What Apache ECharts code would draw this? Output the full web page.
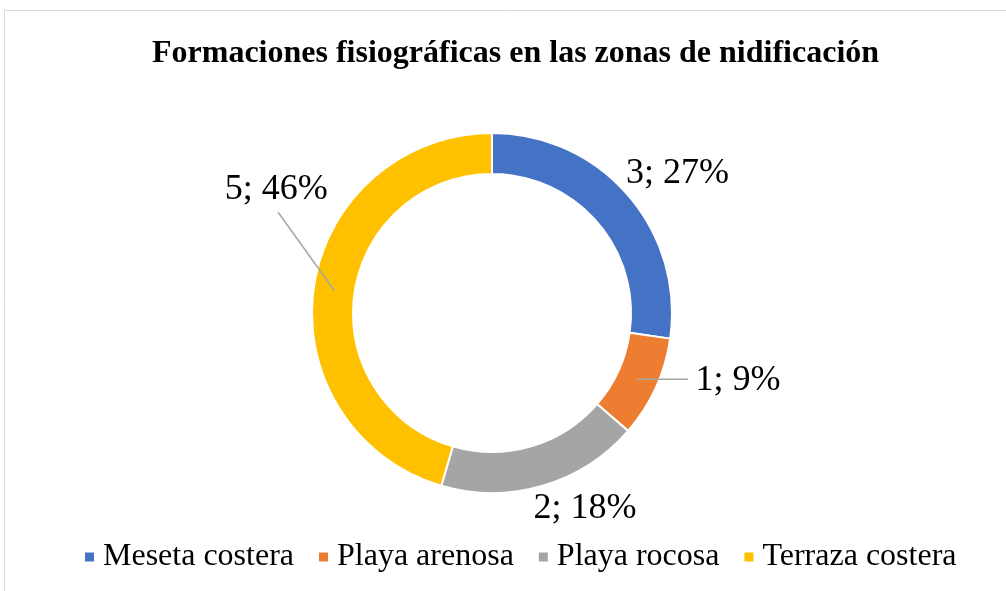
<!doctype html>
<html lang="es">
<head>
<meta charset="utf-8">
<title>Formaciones fisiográficas</title>
<script src="https://cdn.jsdelivr.net/npm/echarts@6/dist/echarts.min.js"></script>
<style>
  html, body { margin: 0; padding: 0; background: #fff; }
  #chart { width: 1006px; height: 591px; }
</style>
</head>
<body>
<div id="chart"></div>
<script>
var categories = ['Meseta costera', 'Playa arenosa', 'Playa rocosa', 'Terraza costera'];
var values = [3, 1, 2, 5];
var colors = ['#4472C4', '#ED7D31', '#A5A5A5', '#FFC000'];
var titleText = 'Formaciones fisiográficas en las zonas de nidificación';

// donut geometry (px)
var cx = 492, cy = 313, r0 = 139, r1 = 180;
// label offsets from the middle of each ring slice, and leader line ends
var labelShift = [[65, -35], [101, 1], [48, 43], [-58, -101]];
var lineEnd = [null, [51, 0], null, [-56, -78]];

var myChart = echarts.init(document.getElementById('chart'));

function midPoint(i) {
    var total = 0, before = 0;
    for (var k = 0; k < values.length; k++) {
        total += values[k];
        if (k < i) before += values[k];
    }
    var a = (before + values[i] / 2) / total * 2 * Math.PI;
    var rm = (r0 + r1) / 2;
    return [cx + rm * Math.sin(a), cy - rm * Math.cos(a)];
}

var ringData = categories.map(function (name, i) {
    return { name: name, value: values[i], itemStyle: { color: colors[i] } };
});

// same slices again, invisible, on top: only carries the labels and leader lines
var labelData = categories.map(function (name, i) {
    return {
        name: name,
        value: values[i],
        labelLine: { show: lineEnd[i] != null }
    };
});

myChart.setOption({
    animation: false,
    graphic: [{
        type: 'rect',
        shape: { x: 4.5, y: 10.5, width: 1100, height: 700 },
        style: { fill: 'none', stroke: '#d9d9d9', lineWidth: 1 },
        silent: true
    }],
    title: {
        text: titleText,
        left: 147,
        top: 33,
        textStyle: {
            fontFamily: 'Liberation Serif',
            fontWeight: 'bold',
            fontSize: 32,
            color: '#000'
        }
    },
    legend: {
        data: categories,
        left: 78,
        top: 536,
        icon: 'rect',
        itemWidth: 11,
        itemHeight: 11,
        itemGap: 23,
        textStyle: {
            fontFamily: 'Liberation Serif',
            fontSize: 32,
            color: '#000',
            padding: [0, 0, 0, 3]
        }
    },
    series: [{
        type: 'pie',
        z: 2,
        center: [cx, cy],
        radius: [r0, r1],
        startAngle: 90,
        clockwise: true,
        itemStyle: { borderColor: '#fff', borderWidth: 2 },
        label: { show: false },
        labelLine: { show: false },
        data: ringData
    }, {
        type: 'pie',
        z: 3,
        silent: true,
        center: [cx, cy],
        radius: [r0, r1],
        startAngle: 90,
        clockwise: true,
        percentPrecision: 0,
        avoidLabelOverlap: false,
        itemStyle: { color: 'rgba(0,0,0,0)', borderWidth: 0 },
        label: {
            show: true,
            position: 'outside',
            formatter: '{c}; {d}%',
            fontFamily: 'Liberation Serif',
            fontSize: 36,
            color: '#000'
        },
        labelLine: {
            show: true,
            lineStyle: { color: '#A6A6A6', width: 1.5 }
        },
        labelLayout: function (p) {
            var i = p.dataIndex;
            var m = midPoint(i);
            var out = {
                x: m[0] + labelShift[i][0],
                y: m[1] + labelShift[i][1],
                align: 'center',
                verticalAlign: 'middle'
            };
            if (lineEnd[i]) {
                out.labelLinePoints = [
                    [m[0], m[1]],
                    [m[0] + lineEnd[i][0], m[1] + lineEnd[i][1]],
                    [m[0] + lineEnd[i][0], m[1] + lineEnd[i][1]]
                ];
            }
            return out;
        },
        data: labelData
    }]
});
</script>
</body>
</html>
